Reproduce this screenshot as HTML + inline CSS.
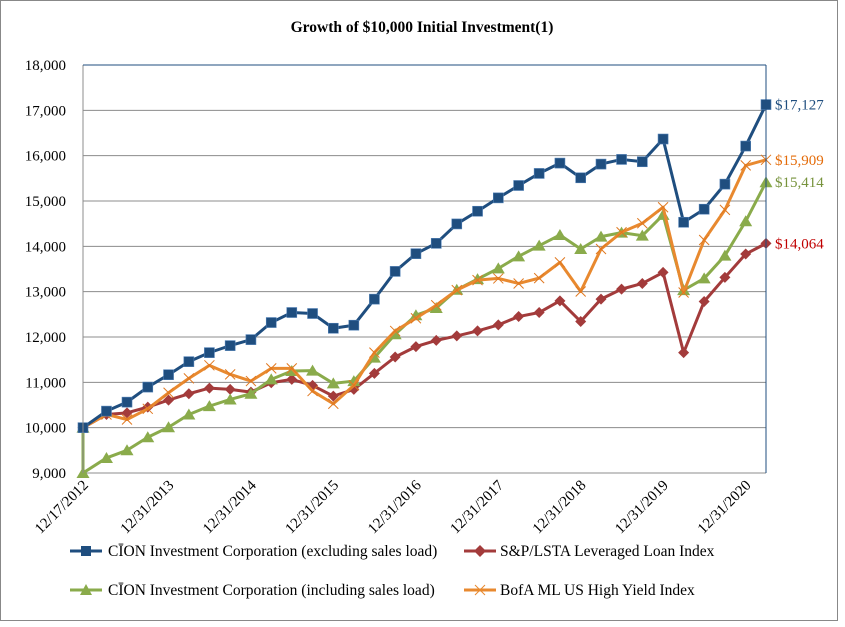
<!DOCTYPE html>
<html><head><meta charset="utf-8"><style>
body{margin:0;background:#fff;}
svg text{font-family:"Liberation Serif",serif;}
</style></head><body>
<svg id="chart" width="845" height="622" viewBox="0 0 845 622" xmlns="http://www.w3.org/2000/svg">
<rect x="0.5" y="0.5" width="837" height="620" fill="#fff" stroke="#888"/>
<text x="422" y="32" text-anchor="middle" font-size="15.5" font-weight="bold">Growth of $10,000 Initial Investment(1)</text>
<g id="grid"></g><g id="series"></g><g id="axes"></g>
<g font-size="15.5">
 <g><line x1="70" y1="551" x2="102" y2="551" stroke="#1f4e7f" stroke-width="3"/><rect x="81" y="546" width="10" height="10" fill="#1f4e7f"/><text x="108" y="556">CĪON Investment Corporation (excluding sales load)</text></g>
 <g><line x1="464" y1="551" x2="496" y2="551" stroke="#a33b3b" stroke-width="3"/><path d="M480 545 L486 551 L480 557 L474 551Z" fill="#a33b3b"/><text x="500" y="556">S&amp;P/LSTA Leveraged Loan Index</text></g>
 <g><line x1="70" y1="590" x2="102" y2="590" stroke="#8aab4b" stroke-width="3"/><path d="M86 584 L92 595 L80 595Z" fill="#8aab4b"/><text x="108" y="595">CĪON Investment Corporation (including sales load)</text></g>
 <g><line x1="464" y1="590" x2="496" y2="590" stroke="#e8892f" stroke-width="3"/><path d="M475 585 L485 595 M485 585 L475 595" stroke="#e8892f" stroke-width="1"/><text x="500" y="595">BofA ML US High Yield Index</text></g>
</g>
</svg>
<script>
const dates=["2012-12-17","2013-03-31","2013-06-30","2013-09-30","2013-12-31","2014-03-31","2014-06-30","2014-09-30","2014-12-31","2015-03-31","2015-06-30","2015-09-30","2015-12-31","2016-03-31","2016-06-30","2016-09-30","2016-12-31","2017-03-31","2017-06-30","2017-09-30","2017-12-31","2018-03-31","2018-06-30","2018-09-30","2018-12-31","2019-03-31","2019-06-30","2019-09-30","2019-12-31","2020-03-31","2020-06-30","2020-09-30","2020-12-31","2021-03-31"];
const cionExcl=[10000,10365,10563,10895,11168,11456,11655,11810,11942,12319,12540,12518,12193,12260,12835,13447,13838,14066,14494,14774,15069,15342,15608,15836,15512,15814,15917,15866,16367,14531,14819,15372,16212,17127];
const cionIncl=[9000,9332,9501,9789,10010,10291,10475,10622,10748,11065,11249,11257,10976,11028,11544,12060,12481,12640,13041,13277,13513,13779,14015,14251,13941,14214,14302,14236,14693,13034,13292,13794,14553,15414];
const cionInclStart=10000;
const spLsta=[10000,10291,10327,10453,10608,10748,10873,10844,10785,10991,11065,10932,10696,10844,11198,11559,11788,11925,12024,12134,12267,12451,12540,12798,12341,12835,13056,13181,13425,11655,12783,13314,13830,14064];
const bofa=[10000,10291,10180,10416,10770,11087,11375,11176,11028,11308,11308,10807,10527,10932,11655,12134,12414,12700,13034,13255,13292,13181,13299,13646,13004,13941,14310,14509,14863,12982,14140,14804,15785,15909];
const yTicks=[9000,10000,11000,12000,13000,14000,15000,16000,17000,18000];
const xLabelIdx=[0,4,8,12,16,20,24,28,32];
const xLabels=["12/17/2012","12/31/2013","12/31/2014","12/31/2015","12/31/2016","12/31/2017","12/31/2018","12/31/2019","12/31/2020"];
const endLabels=["$17,127","$15,909","$15,414","$14,064"];

const NS="http://www.w3.org/2000/svg";
const X0=83,X1=766,Y0=473,Y1=65;
const t=dates.map(d=>Date.parse(d));
const tMin=t[0],tMax=t[t.length-1];
const xs=i=>X0+(t[i]-tMin)/(tMax-tMin)*(X1-X0);
const ys=v=>Y0-(v-9000)/9000*(Y0-Y1);
function mk(tag,attrs,parent){const e=document.createElementNS(NS,tag);for(const k in attrs)e.setAttribute(k,attrs[k]);parent.appendChild(e);return e;}
const grid=document.getElementById('grid'),axes=document.getElementById('axes'),ser=document.getElementById('series');
yTicks.forEach(v=>{
 const l=mk('line',{x1:X0,x2:X1,y1:ys(v),y2:ys(v),stroke:'#8c8c8c','stroke-width':1},grid);
 
 
 const tx=mk('text',{x:66,y:ys(v)+5,'text-anchor':'end','font-size':15},axes);
 tx.textContent=v.toLocaleString('en-US');
 
 
});
const ax=mk('line',{x1:X0,x2:X0,y1:Y1,y2:Y0,stroke:'#8c8c8c'},axes);


const rb=mk('line',{x1:X1,x2:X1,y1:Y1,y2:Y0,stroke:'#1f4e7f'},axes);


const tb=mk('line',{x1:X0,x2:X1,y1:Y1,y2:Y1,stroke:'#1f4e7f'},axes);


xLabelIdx.forEach((idx,k)=>{
 const x=xs(idx)+6,y=Y0+13;
 const tx=mk('text',{x:x,y:y,'text-anchor':'end','font-size':15,transform:`rotate(-45 ${x} ${y})`},axes);
 tx.textContent=xLabels[k];
 
 
});
function marker(type,x,y,c,g){
 let e;
 if(type==='sq')e=mk('rect',{x:x-5,y:y-5,width:10,height:10,fill:c,stroke:'#4f7fb5','stroke-width':0.6},g);
 else if(type==='dia')e=mk('path',{d:`M${x} ${y-5.5}L${x+5.5} ${y}L${x} ${y+5.5}L${x-5.5} ${y}Z`,fill:c},g);
 else if(type==='tri')e=mk('path',{d:`M${x} ${y-6}L${x+6.5} ${y+5}L${x-6.5} ${y+5}Z`,fill:c},g);
 else e=mk('path',{d:`M${x-5} ${y-5}L${x+5} ${y+5}M${x+5} ${y-5}L${x-5} ${y+5}`,stroke:c,'stroke-width':1,fill:'none'},g);
 
 
}
function drawSeries(name,vals,color,type,start){
 const g=mk('g',{},ser);
 
 
 let pts=vals.map((v,i)=>xs(i)+','+ys(v));
 if(start!==undefined)pts.unshift(xs(0)+','+ys(start));
 const p=mk('polyline',{points:pts.join(' '),fill:'none',stroke:color,'stroke-width':3,'stroke-linejoin':'round'},g);
 
 
 const mc=type==='x'?'#e07820':color;
 if(start!==undefined)marker(type,xs(0),ys(start),mc,g);
 vals.forEach((v,i)=>marker(type,xs(i),ys(v),mc,g));
}
drawSeries('series-sp-lsta',spLsta,'#a33b3b','dia');
drawSeries('series-cion-incl',cionIncl,'#8aab4b','tri',cionInclStart);
drawSeries('series-bofa',bofa,'#e8892f','x');
drawSeries('series-cion-excl',cionExcl,'#1f4e7f','sq');
const last=dates.length-1;
[[cionExcl,'#1f4e7f'],[bofa,'#e46c0a'],[cionIncl,'#77933c'],[spLsta,'#c00000']].forEach((s,k)=>{
 const tx=mk('text',{x:X1+9,y:ys(s[0][last])+5,'font-size':15,fill:s[1]},axes);
 tx.textContent=endLabels[k];
 
 
});
</script>
</body></html>
